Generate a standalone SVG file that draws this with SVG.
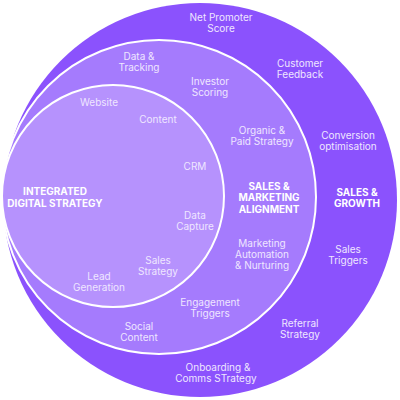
<svg xmlns="http://www.w3.org/2000/svg" width="400" height="400" viewBox="0 0 400 400">
<style>
.lbl{font-family:Inter,"Open Sans","Liberation Sans",sans-serif;font-size:10px;fill:#efe6ff;text-anchor:middle}
.ttl{font-family:Inter,"Open Sans","Liberation Sans",sans-serif;font-size:10px;font-weight:700;fill:#ffffff;text-anchor:middle}
</style>
<rect width="400" height="400" fill="#ffffff"/>
<g id="sales-growth">
<circle cx="200" cy="200" r="197" fill="#8b52fd"/>
<text class="lbl" x="221" y="21">Net Promoter</text>
<text class="lbl" x="221" y="32">Score</text>
<text class="lbl" x="300" y="67">Customer</text>
<text class="lbl" x="300" y="78">Feedback</text>
<text class="lbl" x="348" y="139">Conversion</text>
<text class="lbl" x="348" y="150">optimisation</text>
<text class="ttl" x="357" y="196">SALES &amp;</text>
<text class="ttl" x="357" y="207">GROWTH</text>
<text class="lbl" x="348" y="253">Sales</text>
<text class="lbl" x="348" y="264">Triggers</text>
<text class="lbl" x="300" y="327">Referral</text>
<text class="lbl" x="300" y="338">Strategy</text>
<text class="lbl" x="218" y="371">Onboarding &amp;</text>
<text class="lbl" x="216" y="382">Comms STrategy</text>
</g>
<g id="sales-marketing-alignment">
<circle cx="159" cy="197" r="157" fill="#a57bfd" stroke="#ffffff" stroke-width="2"/>
<text class="lbl" x="139" y="60">Data &amp;</text>
<text class="lbl" x="139" y="71">Tracking</text>
<text class="lbl" x="210" y="85">Investor</text>
<text class="lbl" x="210" y="96">Scoring</text>
<text class="lbl" x="262" y="134">Organic &amp;</text>
<text class="lbl" x="262" y="145">Paid Strategy</text>
<text class="ttl" x="269" y="190">SALES &amp;</text>
<text class="ttl" x="269" y="201">MARKETING</text>
<text class="ttl" x="269" y="213">ALIGNMENT</text>
<text class="lbl" x="262" y="247">Marketing</text>
<text class="lbl" x="262" y="258">Automation</text>
<text class="lbl" x="262" y="269">&amp; Nurturing</text>
<text class="lbl" x="210" y="306">Engagement</text>
<text class="lbl" x="210" y="317">Triggers</text>
<text class="lbl" x="139" y="330">Social</text>
<text class="lbl" x="139" y="341">Content</text>
</g>
<g id="integrated-digital-strategy">
<circle cx="113" cy="196" r="111" fill="#b692fd" stroke="#ffffff" stroke-width="2"/>
<text class="lbl" x="99" y="106">Website</text>
<text class="lbl" x="158" y="123">Content</text>
<text class="lbl" x="195" y="170">CRM</text>
<text class="ttl" x="55" y="195">INTEGRATED</text>
<text class="ttl" x="55" y="207">DIGITAL STRATEGY</text>
<text class="lbl" x="195" y="219">Data</text>
<text class="lbl" x="195" y="230">Capture</text>
<text class="lbl" x="158" y="264">Sales</text>
<text class="lbl" x="158" y="275">Strategy</text>
<text class="lbl" x="99" y="280">Lead</text>
<text class="lbl" x="99" y="291">Generation</text>
</g>
<g id="connectors"></g>
</svg>
